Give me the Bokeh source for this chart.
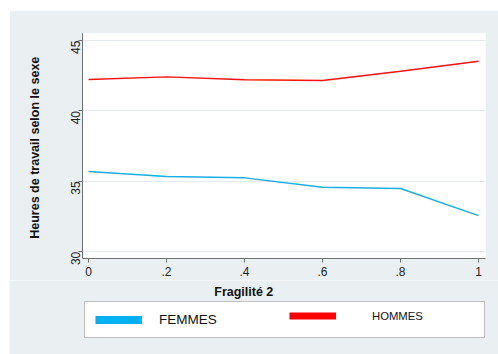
from bokeh.plotting import figure
from bokeh.models import Range1d, FixedTicker, Legend, LegendItem, Label
from bokeh.layouts import column
from bokeh.embed import file_html
from bokeh.resources import INLINE
import math

# ---- data ----
fragilite = [0, 0.2, 0.4, 0.6, 0.8, 1.0]
femmes = [35.70, 35.34, 35.25, 34.58, 34.49, 32.57]
hommes = [42.23, 42.42, 42.22, 42.16, 42.82, 43.53]
x_ticks = [0, 0.2, 0.4, 0.6, 0.8, 1.0]
x_tick_labels = ["0", ".2", ".4", ".6", ".8", "1"]
y_ticks = [30, 35, 40, 45]
y_tick_labels = ["30", "35", "40", "45"]

FONT = "Liberation Sans"
BG = "#eaf0f2"
BLUE = "#1aaee6"
RED = "#ff1010"

# ---------------- main plot ----------------
p = figure(width=489, height=270, output_backend="svg", toolbar_location=None,
           x_range=Range1d(-0.0154, 1.018), y_range=Range1d(29.52, 45.5),
           min_border_left=73, min_border_right=13, min_border_top=23,
           min_border_bottom=22)
p.background_fill_color = "white"
p.border_fill_color = BG
p.outline_line_color = None

p.line(fragilite, femmes, line_color=BLUE, line_width=1.4)
p.line(fragilite, hommes, line_color=RED, line_width=1.4)

for ax in (p.xaxis[0], p.yaxis[0]):
    ax.axis_line_color = "#707070"
    ax.major_tick_line_color = "#707070"
    ax.major_tick_in = 0
    ax.major_tick_out = 4
    ax.minor_tick_line_color = None
    ax.major_label_text_font = FONT
    ax.major_label_text_font_size = "12px"
    ax.major_label_text_color = "#222222"

p.xaxis.ticker = FixedTicker(ticks=x_ticks)
p.xaxis.major_label_overrides = {t: l for t, l in zip(x_ticks, x_tick_labels)}
p.xaxis.major_label_standoff = 4

p.yaxis.ticker = FixedTicker(ticks=y_ticks)
p.yaxis.major_label_overrides = {t: l for t, l in zip(y_ticks, y_tick_labels)}
p.yaxis.major_label_orientation = math.pi / 2
p.yaxis.major_label_standoff = 3
p.yaxis.axis_label = "Heures de travail  selon le sexe"
p.yaxis.axis_label_text_font = FONT
p.yaxis.axis_label_text_font_size = "12.5px"
p.yaxis.axis_label_text_font_style = "bold"
p.yaxis.axis_label_text_color = "#111111"
p.yaxis.axis_label_standoff = 22

p.xgrid.grid_line_color = None
p.ygrid.grid_line_color = "#e3ebee"
p.ygrid.grid_line_width = 1

# ---------------- x title + legend strip ----------------
p2 = figure(width=489, height=74, output_backend="svg", toolbar_location=None,
            x_range=Range1d(0, 1), y_range=Range1d(0, 1),
            x_axis_location=None, y_axis_location=None,
            min_border=0, min_border_left=0, min_border_right=0,
            min_border_top=0, min_border_bottom=0)
p2.background_fill_color = BG
p2.border_fill_color = BG
p2.outline_line_color = None
p2.xgrid.grid_line_color = None
p2.ygrid.grid_line_color = None

for fig in (p, p2):
    try:
        fig.frame_align = False
    except Exception:
        pass

# swatch renderers for the legend (series drawn thick; out of this strip's range)
sw_f = p2.line(fragilite, femmes, line_color="#00b0f0", line_width=8)
sw_h = p2.line(fragilite, hommes, line_color="#ff0000", line_width=7)

xlab = Label(x=236, y=63, x_units="screen", y_units="screen",
             text="Fragilité  2", text_font=FONT, text_font_size="12.5px",
             text_font_style="bold", text_align="center",
             text_baseline="middle", text_color="#111111")
p2.add_layout(xlab)

leg_a = Legend(items=[LegendItem(label="FEMMES", renderers=[sw_f])],
               location=(75, 16), orientation="horizontal",
               padding=10, margin=0, spacing=0,
               glyph_width=47, glyph_height=15, label_standoff=17,
               label_width=315, label_height=15,
               label_text_font=FONT, label_text_font_size="13.5px",
               label_text_color="#111111",
               background_fill_color="white", background_fill_alpha=1,
               border_line_color="#808080", border_line_width=1)
leg_b = Legend(items=[LegendItem(label="HOMMES", renderers=[sw_h])],
               location=(280, 31), orientation="horizontal",
               padding=0, margin=0, spacing=0,
               glyph_width=47, glyph_height=15, label_standoff=36,
               label_height=15,
               label_text_font=FONT, label_text_font_size="11.3px",
               label_text_color="#111111",
               background_fill_alpha=0, border_line_color=None)
p2.add_layout(leg_a)
p2.add_layout(leg_b)

layout = column(p, p2, spacing=0, margin=(10, 0, 0, 9))
open("out.html", "w").write(file_html(layout, INLINE))
